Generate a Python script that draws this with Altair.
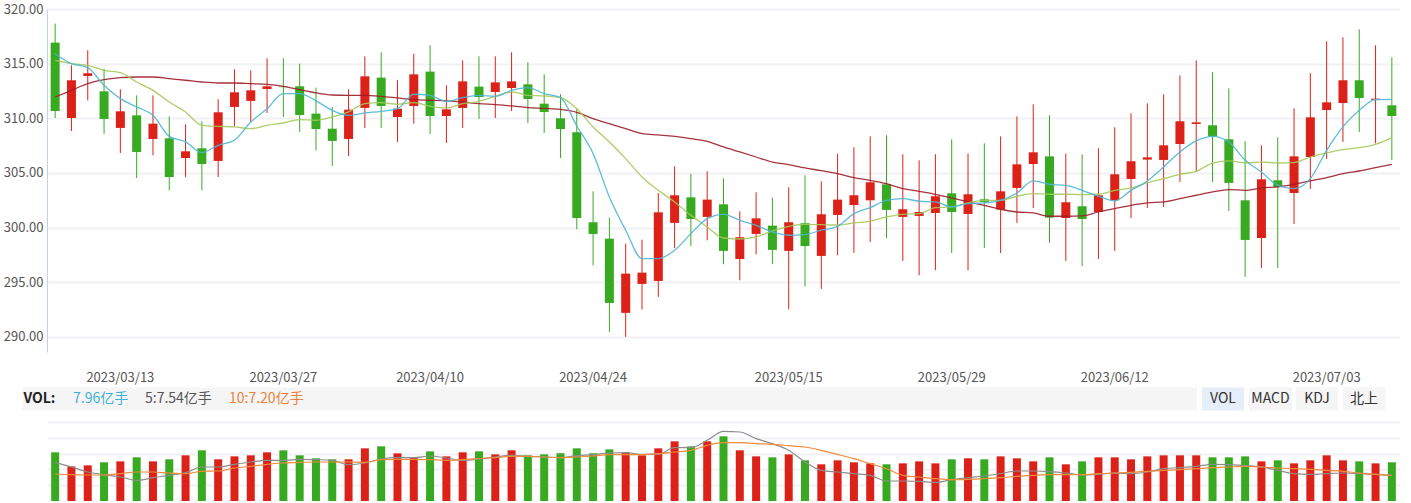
import altair as alt
import pandas as pd

FONT = "Noto Sans CJK SC"
RED = "#dc2218"
GREEN = "#38aa22"

# ---- categories -----------------------------------------------------------
holidays = ["2023-04-05", "2023-05-01", "2023-05-02", "2023-05-03", "2023-06-22", "2023-06-23"]
dates = [d.strftime("%Y/%m/%d") for d in pd.bdate_range("2023-03-07", "2023-07-07")
         if d.strftime("%Y-%m-%d") not in holidays]
label_dates = ["2023/03/13", "2023/03/27", "2023/04/10", "2023/04/24",
               "2023/05/15", "2023/05/29", "2023/06/12", "2023/07/03"]
price_ticks = [290, 295, 300, 305, 310, 315, 320]

# ---- price series ----------------------------------------------------------
open_ = [316.92, 310.03, 313.87, 312.47, 309.12, 310.27, 308.11, 308.17, 306.37, 307.26,
         306.10, 311.04, 311.59, 312.68, 312.90, 312.93, 310.43, 309.05, 308.11, 310.95,
         313.72, 310.12, 311.13, 314.27, 310.21, 310.95, 312.90, 312.41, 312.77, 313.11,
         311.34, 310.00, 308.72, 300.49, 298.99, 292.20, 294.85, 295.12, 300.43, 302.77,
         300.98, 302.13, 297.13, 299.42, 300.18, 297.87, 300.40, 297.41, 301.16, 302.07,
         302.50, 303.96, 300.98, 301.07, 301.34, 303.14, 301.25, 302.59, 301.65, 303.63,
         305.82, 306.52, 300.88, 301.95, 301.43, 302.50, 304.45, 306.22, 306.19, 307.65,
         309.48, 309.36, 308.08, 302.50, 299.05, 304.33, 303.17, 306.46, 310.76, 311.40,
         313.48, 311.70, 311.19]
close = [310.67, 313.48, 314.12, 309.94, 310.64, 306.92, 309.51, 304.63, 306.98, 305.82,
         310.55, 312.38, 312.56, 312.93, 312.85, 310.30, 309.02, 307.93, 310.79, 313.84,
         311.13, 310.88, 314.02, 310.21, 310.82, 313.38, 311.95, 313.29, 313.38, 311.77,
         310.58, 309.02, 300.88, 299.42, 293.11, 295.79, 295.88, 301.40, 302.96, 300.79,
         302.56, 297.87, 299.12, 300.85, 297.96, 300.49, 298.32, 301.22, 302.56, 302.96,
         304.15, 301.62, 301.68, 301.43, 302.87, 301.43, 303.05, 302.35, 303.32, 305.79,
         306.89, 300.91, 302.32, 300.79, 302.96, 304.88, 306.07, 306.43, 307.53, 309.73,
         309.63, 308.35, 304.09, 298.87, 304.42, 303.72, 306.52, 310.09, 311.46, 313.48,
         311.86, 311.80, 310.21]
high = [318.66, 314.85, 316.22, 314.54, 312.65, 312.10, 312.10, 310.18, 309.45, 309.73,
        311.74, 314.48, 314.39, 315.49, 315.49, 315.00, 312.80, 311.04, 312.65, 315.67,
        316.04, 313.48, 315.91, 316.68, 313.02, 315.30, 315.67, 315.67, 316.04, 315.12,
        314.02, 312.20, 310.88, 303.32, 300.91, 298.54, 298.90, 303.17, 305.61, 304.94,
        305.15, 304.51, 301.49, 303.23, 302.74, 303.69, 304.79, 304.24, 306.77, 307.35,
        308.35, 308.45, 306.71, 306.16, 306.71, 308.08, 306.77, 307.71, 308.35, 310.18,
        311.28, 310.27, 306.77, 306.71, 307.26, 309.18, 310.46, 311.37, 312.20, 313.93,
        315.30, 314.21, 312.74, 307.90, 307.53, 308.26, 310.91, 314.12, 317.04, 317.41,
        318.14, 316.68, 315.58]
low = [310.03, 308.84, 311.65, 308.57, 306.83, 304.54, 306.62, 303.41, 304.63, 303.41,
       304.63, 309.27, 309.66, 310.49, 310.12, 308.75, 307.07, 305.64, 306.55, 309.12,
       309.12, 307.84, 309.51, 308.57, 307.74, 309.12, 309.94, 310.03, 310.67, 309.57,
       308.66, 306.37, 299.85, 296.55, 290.46, 290.00, 292.50, 293.66, 298.14, 298.32,
       298.84, 296.65, 295.18, 297.56, 296.65, 292.53, 294.63, 294.39, 297.47, 297.68,
       298.68, 299.05, 296.95, 295.64, 296.10, 297.68, 296.10, 298.14, 297.68, 300.43,
       301.80, 298.60, 296.95, 296.49, 297.13, 297.87, 300.88, 301.80, 301.89, 304.18,
       305.15, 304.18, 301.52, 295.49, 296.31, 296.31, 300.34, 303.54, 306.28, 307.84,
       308.75, 307.71, 306.19]
ma5 = [315.91, 315.00, 314.63, 313.02, 311.80, 311.04, 310.27, 308.35, 307.84, 306.86,
       307.53, 307.99, 309.66, 310.88, 312.26, 312.26, 311.60, 310.73, 310.27, 310.49,
       310.64, 310.88, 312.20, 312.10, 311.55, 311.89, 312.10, 312.01, 312.56, 312.80,
       312.26, 311.89, 309.30, 306.77, 302.80, 299.76, 297.16, 297.16, 297.93, 299.45,
       300.82, 301.22, 300.67, 300.21, 299.60, 299.30, 299.36, 299.76, 300.12, 301.28,
       301.83, 302.50, 302.65, 302.41, 302.35, 301.89, 302.20, 302.26, 302.50, 303.17,
       304.27, 303.96, 303.87, 303.41, 302.87, 302.44, 303.41, 304.27, 305.55, 306.92,
       307.93, 308.35, 307.84, 306.16, 305.09, 303.87, 303.57, 304.48, 307.07, 309.21,
       310.73, 311.71, 311.74]
ma10 = [315.30, 315.00, 314.85, 314.39, 314.18, 313.32, 312.56, 311.49, 310.58, 309.36,
        309.27, 309.21, 309.05, 309.36, 309.57, 309.88, 309.82, 310.12, 310.58, 311.34,
        311.43, 311.28, 311.43, 311.10, 310.95, 311.34, 311.55, 312.01, 312.41, 312.10,
        312.04, 311.89, 310.88, 309.21, 307.84, 306.31, 304.63, 303.41, 302.35, 301.13,
        300.06, 299.05, 298.96, 299.15, 299.70, 300.12, 300.30, 300.27, 300.24, 300.43,
        300.58, 300.98, 301.22, 301.28, 301.83, 301.89, 302.26, 302.50, 302.50, 302.87,
        303.11, 303.05, 303.05, 303.02, 303.05, 303.41, 303.63, 304.09, 304.48, 304.88,
        305.15, 305.91, 306.10, 305.91, 306.00, 305.91, 305.95, 306.46, 306.83, 307.13,
        307.32, 307.62, 308.23]
ma30 = [311.95, 312.56, 313.17, 313.54, 313.72, 313.78, 313.78, 313.63, 313.48, 313.32,
        313.23, 313.23, 313.17, 313.11, 312.93, 312.62, 312.32, 312.13, 312.10, 312.10,
        312.01, 311.86, 311.71, 311.65, 311.59, 311.49, 311.34, 311.25, 311.13, 310.98,
        310.91, 310.82, 310.55, 309.97, 309.51, 309.05, 308.60, 308.48, 308.35, 308.14,
        307.90, 307.38, 306.92, 306.46, 306.00, 305.76, 305.46, 305.21, 304.94, 304.57,
        304.33, 304.02, 303.57, 303.32, 303.05, 302.71, 302.35, 302.04, 301.68, 301.43,
        301.34, 301.04, 301.04, 301.07, 301.43, 301.74, 302.04, 302.26, 302.35, 302.65,
        302.96, 303.26, 303.48, 303.41, 303.63, 303.72, 303.96, 304.27, 304.57, 304.94,
        305.18, 305.49, 305.79]

# ---- volume series (亿手) ----------------------------------------------------
vol = [10.02, 7.13, 7.34, 7.96, 8.16, 8.99, 8.16, 8.58, 9.40, 10.43,
       8.58, 9.19, 9.40, 10.02, 10.43, 9.40, 8.78, 8.58, 8.58, 10.84,
       11.25, 9.81, 8.99, 10.22, 9.19, 10.02, 10.22, 9.60, 10.43, 9.40,
       9.60, 9.81, 10.84, 9.81, 10.63, 10.02, 9.40, 10.84, 12.28, 11.25,
       12.28, 13.31, 10.43, 9.19, 8.99, 9.60, 8.37, 7.55, 8.37, 7.96,
       7.75, 7.55, 7.75, 8.16, 7.75, 8.58, 8.78, 8.58, 9.19, 8.78,
       8.16, 8.99, 7.55, 8.16, 8.99, 8.99, 8.58, 9.19, 9.40, 9.40,
       9.40, 8.99, 8.99, 9.19, 8.16, 8.37, 7.75, 8.37, 9.40, 8.37,
       8.16, 7.75, 7.96]
vol_ma5 = [7.89, 7.00, 5.97, 5.42, 4.94, 4.25, 4.80, 5.28, 5.83, 7.00,
           7.00, 7.55, 8.03, 8.37, 8.37, 8.58, 8.51, 8.37, 7.48, 7.82,
           8.64, 8.92, 8.92, 9.26, 8.85, 8.37, 8.64, 9.06, 9.40, 9.19,
           9.06, 8.92, 9.33, 9.54, 9.88, 9.95, 9.60, 9.60, 10.98, 10.98,
           12.49, 14.34, 14.20, 12.83, 11.80, 10.43, 8.03, 6.31, 5.97, 5.63,
           5.28, 4.12, 4.12, 4.05, 3.84, 4.39, 4.80, 5.15, 5.63, 6.17,
           6.17, 6.04, 5.76, 5.35, 5.49, 5.76, 5.63, 5.97, 6.65, 6.86,
           7.13, 7.55, 7.48, 7.27, 7.00, 6.31, 5.63, 5.49, 5.63, 5.76,
           5.63, 5.49, 5.28]
vol_ma10 = [5.56, 5.42, 5.35, 5.35, 5.63, 5.97, 5.97, 5.76, 5.63, 6.11,
            6.17, 6.79, 7.13, 7.55, 7.82, 7.96, 8.03, 8.03, 8.03, 7.96,
            8.51, 8.58, 8.58, 8.51, 8.37, 8.51, 8.71, 8.92, 9.19, 9.19,
            9.06, 8.92, 9.06, 9.26, 9.54, 9.54, 9.54, 9.74, 10.08, 10.43,
            11.46, 12.01, 12.01, 11.80, 11.66, 11.39, 11.11, 10.43, 9.60, 8.71,
            7.68, 6.65, 5.28, 4.94, 4.60, 4.39, 4.46, 4.60, 4.80, 5.08,
            5.28, 5.42, 5.42, 5.42, 5.63, 5.76, 5.90, 6.11, 6.31, 6.45,
            6.65, 6.86, 7.00, 7.13, 7.00, 6.79, 6.65, 6.52, 6.31, 6.11,
            5.76, 5.49, 5.28]
vol_grid = [0, 3.252, 6.504, 9.756, 13.008, 16.26]

df = pd.DataFrame({"date": dates, "open": open_, "close": close, "high": high, "low": low,
                   "ma5": ma5, "ma10": ma10, "ma30": ma30,
                   "vol": vol, "vma5": vol_ma5, "vma10": vol_ma10})

W = 1353
xscale = alt.Scale(domain=dates, paddingInner=0, paddingOuter=0)
x_price = alt.X("date:O", scale=xscale,
                axis=alt.Axis(values=label_dates, labelAngle=0, ticks=False, domain=False,
                              grid=False, labelPadding=19, labelColor="#555",
                              labelFontSize=13, labelFont=FONT, title=None))
updown = alt.condition("datum.close >= datum.open", alt.value(RED), alt.value(GREEN))

yscale = alt.Scale(domain=[288.62, 320], nice=False, zero=False)
yaxis = alt.Axis(values=price_ticks, format=".2f", ticks=False, domainColor="#c3d1e8",
                 labelColor="#555", labelFontSize=13, labelFont=FONT, labelPadding=4,
                 gridColor="#f1f2f5", gridWidth=2, title=None)

def py(field):
    return alt.Y(field, type="quantitative", scale=yscale, axis=yaxis)

base = alt.Chart(df)
wicks = base.mark_rule(strokeWidth=1).encode(x=x_price, y=py("low"), y2="high:Q", color=updown)
bodies = base.mark_bar(size=9).encode(x=x_price, y=py("open"), y2="close:Q", color=updown)
l30 = base.mark_line(color="#9c1c28", strokeWidth=1.3, interpolate="monotone", opacity=0.9).encode(x=x_price, y=py("ma30"))
l10 = base.mark_line(color="#a4c95a", strokeWidth=1.3, interpolate="monotone", opacity=0.9).encode(x=x_price, y=py("ma10"))
l5 = base.mark_line(color="#4bb6d6", strokeWidth=1.3, interpolate="monotone", opacity=0.9).encode(x=x_price, y=py("ma5"))
price = alt.layer(wicks, bodies, l30, l10, l5).properties(width=W, height=343)

# ---- volume panel ----------------------------------------------------------
x_vol = alt.X("date:O", scale=xscale,
              axis=alt.Axis(labels=False, ticks=False, domainColor="#c3d1e8", grid=False, title=None))
vscale = alt.Scale(domain=[0, 16.26], nice=False)
vaxis = alt.Axis(values=vol_grid, labels=False, ticks=False, domain=False,
                 gridColor="#f1f2f5", gridWidth=2, title=None)

def vy(field):
    return alt.Y(field, type="quantitative", scale=vscale, axis=vaxis)

vbars = base.mark_bar(size=8).encode(x=x_vol, y=vy("vol"), color=updown)
vl5 = base.mark_line(color="#8c8c8c", strokeWidth=1.2, interpolate="monotone").encode(x=x_vol, y=vy("vma5"))
vl10 = base.mark_line(color="#f08a3c", strokeWidth=1.2, interpolate="monotone").encode(x=x_vol, y=vy("vma10"))

one = alt.Chart(pd.DataFrame({"k": [0]}))

def box(x1, x2, fill):
    return one.mark_rect(fill=fill).encode(x=alt.value(x1), x2=alt.value(x2),
                                           y=alt.value(-34.5), y2=alt.value(-11.5))

def label(txt, x, color, align="left", weight="normal"):
    return one.mark_text(align=align, baseline="middle", fontSize=14, font=FONT,
                         color=color, fontWeight=weight).encode(
        x=alt.value(x), y=alt.value(-23), text=alt.value(txt))

ui = [
    box(-24.5, 1150, "#f5f5f5"),
    label("VOL:", -23.5, "#222", weight="bold"),
    label("7.96亿手", 26, "#3fb1d9"),
    label("5:7.54亿手", 98, "#555"),
    label("10:7.20亿手", 182, "#f0803c"),
    box(1155, 1197, "#e6eef9"), label("VOL", 1176, "#333", align="center"),
    box(1202, 1245, "#f5f5f5"), label("MACD", 1223.5, "#333", align="center"),
    box(1249, 1291, "#f5f5f5"), label("KDJ", 1270, "#333", align="center"),
    box(1296, 1338, "#f5f5f5"), label("北上", 1317, "#333", align="center"),
]
volume = alt.layer(vbars, vl5, vl10, *ui).properties(width=W, height=79)

chart = alt.vconcat(price, volume, spacing=70, bounds="flush").properties(
    padding={"left": 3, "top": 3, "right": 5, "bottom": 0},
    background="white",
).configure_view(stroke=None)

chart.save("out.html", embed_options={"renderer": "svg", "actions": False})
